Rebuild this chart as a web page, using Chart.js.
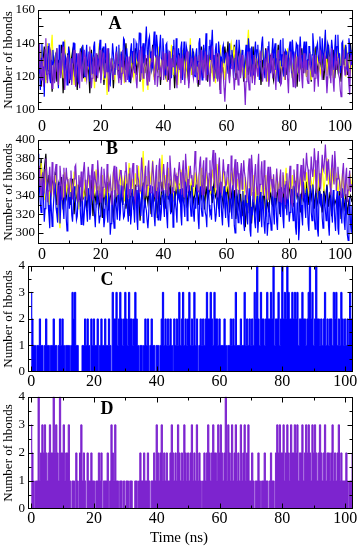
<!DOCTYPE html>
<html>
<head>
<meta charset="utf-8">
<script src="https://cdn.jsdelivr.net/npm/chart.js@4.4.0/dist/chart.umd.min.js"></script>
<style>
html, body { margin: 0; padding: 0; background: #fff; }
#wrap { position: relative; width: 361px; height: 550px; overflow: hidden; }
#wrap canvas { position: absolute; left: 0; }
#xtitle { position: absolute; top: 529px; left: 0; width: 358px; text-align: center;
          font: 15px "Liberation Serif", serif; color: #000; line-height: 17px; }
</style>
</head>
<body>
<div id="wrap">
  <canvas id="panelA" width="361" height="137" style="top:-1px"></canvas>
  <canvas id="panelB" width="361" height="133" style="top:129px"></canvas>
  <canvas id="panelC" width="361" height="137" style="top:255px"></canvas>
  <canvas id="panelD" width="361" height="142" style="top:386px"></canvas>
  <div id="xtitle">Time (ns)</div>
</div>
<script>
// sampling of the trajectories (ns between frames)
const timeStepCoarse = 0.5;   // black / yellow runs
const timeStepFine = 0.25;    // blue / purple runs
const timeStepCD = 0.4;

// tick labels
const xTicks = [0, 20, 40, 60, 80, 100];
const yTicksA = [100, 110, 120, 130, 140, 150, 160];
const yTicksB = [300, 320, 340, 360, 380, 400];
const yTicksCD = [0, 1, 2, 3, 4];

// panel A - number of hbonds, four systems
const hbA_black = [
  120,133,114,127,138,118,129,123,136,111, 126,132,117,130,121,139,110,128,124,134,
  116,129,135,120,127,112,133,125,138,119, 131,122,128,110,136,124,130,117,133,126,
  121,137,115,129,124,134,119,131,113,128, 135,123,127,118,132,126,140,120,129,116,
  130,125,137,121,133,117,128,136,122,131, 118,134,126,139,120,129,124,135,115,130,
  127,121,136,118,131,125,133,113,128,122, 134,119,129,137,123,126,116,132,121,135,
  125,131,114,128,138,120,127,133,117,129, 136,122,130,119,134,126,112,131,124,138,
  128,141,120,133,125,139,118,130,136,123, 131,117,127,135,121,129,124,138,119,132,
  126,134,115,130,122,137,128,120,133,124, 118,131,127,139,116,129,123,135,121,130,
  125,136,119,128,133,114,130,126,137,122, 132,120,128,135,117,129,124,138,121,131,
  127,134,118,130,125,139,122,128,136,119, 133,124,131,117,136,127,138,121,129,140,
  126
];
const hbA_yellow = [
  128,119,136,122,131,116,140,124,133,145, 121,130,137,114,127,134,119,142,125,129,
  138,122,126,115,133,128,120,135,124,130, 117,131,126,137,121,129,113,134,125,140,
  123,132,118,128,109,135,122,130,126,119, 133,124,137,120,129,116,131,127,122,136,
  125,119,132,128,134,121,127,111,130,124, 112,136,123,129,118,133,126,138,120,131,
  127,134,117,129,124,139,121,130,126,115, 132,122,136,128,119,133,125,143,121,129,
  124,131,118,135,127,122,137,120,130,126, 134,121,128,116,132,125,139,123,129,118,
  131,126,135,140,129,138,122,133,127,136, 124,130,119,136,148,126,132,121,128,134,
  120,133,127,138,123,129,117,131,126,135, 128,122,136,119,130,125,133,118,129,137,
  123,131,126,116,134,128,121,136,124,130, 135,120,128,133,118,129,137,124,131,126,
  122,138,127,145,121,132,126,135,119,130, 129,136,123,131,125,139,120,133,127,122,
  131
];
const hbA_blue = [
  122,135,128,112,131,140,118,126,108,133,134,121,125,138,140,119,116,130,127,136,
  129,117,121,134,137,125,113,139,133,122,124,136,141,127,119,132,130,115,126,138,
  135,124,118,131,128,140,140,121,122,134,131,117,116,129,137,128,125,139,133,120,
  120,132,139,126,127,135,117,130,134,122,124,138,141,127,121,133,130,125,136,142,
  118,129,132,138,126,119,140,133,123,128,137,116,115,124,129,140,134,127,121,131,
  138,124,127,139,119,130,135,126,129,143,142,131,124,137,131,122,117,126,136,140,
  128,135,143,124,125,140,138,129,133,146,146,134,122,137,140,128,131,141,150,136,
  129,142,144,131,135,124,126,139,147,133,132,145,139,127,124,138,145,131,130,143,
  136,125,121,139,140,127,128,135,134,123,119,131,138,142,127,121,143,132,125,137,
  131,126,137,141,118,129,141,134,129,138,135,124,122,130,139,128,126,137,133,121,
  120,133,137,126,129,140,143,131,124,118,135,139,128,134,146,132,121,127,138,142,
  130,139,148,133,126,119,136,140,119,127,141,135,132,122,125,137,139,128,128,134,
  134,127,122,133,140,124,127,136,131,119,125,131,137,142,129,124,142,135,124,130,
  136,129,120,127,133,139,128,123,143,137,126,120,138,133,121,127,135,141,130,136,
  139,126,118,129,132,140,144,131,125,119,136,133,129,138,141,127,122,130,134,143,
  127,136,140,124,131,126,117,130,138,142,126,133,143,120,129,136,135,128,120,132,
  137,141,128,122,142,135,125,130,133,140,139,127,122,136,144,133,131,125,136,141,
  126,135,141,124,130,138,138,127,124,133,146,139,133,122,127,138,140,132,129,144,
  135,127,143,134,125,139,148,131,132,140,138,126,121,133,142,137,130,124,137,145,
  128,138,145,131,134,122,126,140,141,129,131,136,139,125,124,134,143,138,133,127,
  136
];
const hbA_purple = [
  125,133,140,121,118,127,132,114,121,136,143,125,116,122,128,137,135,119,113,126,
  127,116,120,131,137,122,115,128,130,119,124,135,138,126,112,120,126,131,133,117,
  119,127,131,115,124,132,136,121,114,125,128,134,121,113,135,126,117,124,129,136,
  132,121,118,126,126,133,138,127,113,119,127,132,122,117,134,128,119,124,130,136,
  116,123,128,134,133,121,120,127,137,124,111,118,125,131,131,122,118,127,126,133,
  134,127,121,116,129,133,115,122,136,129,123,117,127,132,118,124,132,127,125,119,
  120,127,135,122,126,118,113,125,131,136,124,118,138,129,119,125,128,133,122,115,
  133,124,117,125,129,134,136,127,121,115,127,133,114,120,132,127,125,118,130,135,
  118,126,134,127,123,117,129,135,112,121,131,126,126,132,137,124,120,113,127,133,
  124,131,116,122,133,127,121,115,128,134,135,124,113,120,126,131,130,122,119,127,
  132,125,122,116,127,133,115,121,136,130,124,119,129,135,118,124,133,127,121,114,
  126,131,138,124,117,122,128,134,123,117,134,126,110,118,129,124,121,113,105,116,
  127,134,132,120,116,124,125,131,130,121,112,119,136,128,121,115,128,134,119,124,
  133,127,124,114,103,117,129,135,118,112,135,127,122,116,127,133,115,121,131,125,
  120,126,128,135,134,124,117,122,126,131,123,117,137,128,114,120,129,134,125,119,
  131,124,119,112,127,133,136,125,122,115,116,126,130,135,124,118,133,127,118,110,
  126,131,135,124,121,114,129,134,113,121,132,127,124,117,138,129,119,113,127,134,
  122,127,130,118,116,124,134,127,125,120,128,133,111,119,133,126,120,114,129,136,
  135,126,118,124,126,133,131,120,110,118,127,132,123,116,137,129,117,111,128,134,
  124,129,132,121,119,112,108,117,130,136,126,121,121,129,134,125,115,109,127,133,
  129
];

// panel B
const hbB_black = [
  372,355,380,340,368,385,348,362,335,357, 345,366,330,352,340,360,325,348,338,355,
  342,330,358,320,346,335,352,328,344,338, 350,326,342,335,357,318,345,332,350,329,
  340,316,347,330,355,324,338,345,312,342, 334,350,322,343,330,356,326,341,318,347,
  338,325,352,331,346,313,340,354,327,345, 332,348,320,342,336,352,316,344,330,355,
  341,326,350,336,358,322,345,331,349,338, 353,329,344,336,360,327,348,340,355,333,
  342,357,330,346,338,362,325,350,335,344, 348,332,356,339,345,326,353,341,330,347,
  336,350,322,344,331,346,315,338,327,342, 318,340,306,333,325,345,310,336,320,330,
  338,312,343,326,348,317,335,322,346,331, 328,347,334,352,320,340,331,355,326,344,
  350,334,345,328,356,338,342,322,348,335, 340,355,330,348,337,352,326,346,333,350,
  338,322,346,334,352,328,344,318,340,331, 336,322,345,315,338,327,342,320,335,340,
  333
];
const hbB_yellow = [
  360,342,375,350,335,368,345,330,358,352, 340,362,347,320,305,352,338,365,345,355,
  330,358,343,366,338,352,325,360,347,340, 357,335,362,348,330,355,344,368,338,350,
  345,362,338,354,328,360,350,342,365,336, 352,340,368,346,357,334,362,348,375,343,
  358,336,364,350,372,342,355,388,347,361, 340,366,352,378,345,359,337,368,350,384,
  346,362,340,370,352,358,335,365,348,360, 342,368,355,338,364,350,372,345,358,340,
  365,348,360,338,370,352,344,366,350,358, 342,368,355,346,374,350,362,340,366,352,
  345,360,338,365,350,370,343,358,336,362, 348,335,360,345,322,355,340,362,330,350,
  325,348,333,356,340,362,338,350,345,358, 352,340,365,346,358,336,362,348,370,338,
  355,345,362,332,350,366,340,358,347,360, 343,365,350,338,356,346,368,352,340,362,
  350,372,345,360,380,352,365,348,370,355, 362,340,358,345,366,338,355,350,343,360,
  348
];
const hbB_blue = [
  385,362,345,331,322,340,360,336,312,326,338,349,352,330,318,305,343,325,307,320,
  335,346,350,327,320,311,342,355,310,329,346,337,327,315,355,340,315,302,337,348,
  326,338,344,319,312,331,350,343,330,314,318,336,341,350,322,309,354,328,308,321,
  339,330,323,312,348,340,314,322,335,347,352,333,319,306,331,344,345,325,310,318,
  328,340,349,326,306,315,337,345,320,311,343,336,298,310,332,341,317,305,346,335,
  325,314,340,352,313,322,351,340,329,316,318,331,344,353,323,312,336,347,309,320,
  347,339,326,311,338,346,315,303,352,341,330,318,342,350,311,320,336,329,324,313,
  305,320,343,351,329,317,350,338,318,307,337,345,322,314,355,336,313,322,340,348,
  328,317,346,337,317,305,353,342,331,320,340,349,306,316,345,333,324,311,350,339,
  335,347,319,308,348,336,328,317,355,343,313,325,342,351,330,318,351,337,321,312,
  338,326,352,341,315,304,344,350,326,318,349,338,333,322,318,306,347,355,330,320,
  323,314,350,341,336,325,312,320,345,352,329,317,354,340,319,308,340,350,327,316,
  344,333,315,306,337,348,326,315,351,339,308,300,339,347,322,311,346,336,318,309,
  333,345,310,302,341,332,320,309,335,348,303,296,328,319,344,336,312,305,330,340,
  300,315,336,344,318,306,340,329,309,299,326,338,297,310,333,322,315,303,338,346,
  321,309,344,335,312,303,335,347,326,317,349,338,316,305,340,352,330,319,345,334,
  312,322,338,347,325,313,350,340,306,298,332,343,292,306,342,330,318,308,355,341,
  327,316,348,337,310,302,340,351,322,313,352,341,315,304,336,347,303,296,345,333,
  330,342,316,305,343,335,325,313,350,339,308,297,337,348,321,311,346,335,313,302,
  334,345,305,298,340,332,320,310,348,337,312,303,336,326,298,292,325,338,310,300,
  330
];
const hbB_purple = [
  350,362,372,351,338,356,365,349,345,368,380,357,333,345,360,371,352,340,376,362,
  341,355,368,374,356,342,330,351,372,360,347,335,362,370,338,351,370,358,355,343,
  345,358,367,349,336,350,358,371,373,355,342,334,362,351,350,366,334,346,368,376,
  357,345,340,355,371,362,348,337,363,374,335,349,366,358,352,340,378,365,344,333,
  360,371,337,349,369,358,351,340,374,363,343,352,358,345,330,344,365,372,349,338,
  371,357,342,355,359,367,367,350,338,349,355,366,376,360,346,337,363,370,340,352,
  368,375,352,339,334,350,373,361,357,344,345,363,381,366,350,340,362,372,339,351,
  369,378,355,344,343,360,377,364,349,338,364,373,336,348,371,380,358,345,346,362,
  374,360,351,342,365,376,340,352,383,369,356,343,344,361,370,357,361,349,348,367,
  376,365,353,341,366,378,339,352,385,370,358,345,347,364,372,359,362,350,350,368,
  388,373,359,346,344,360,375,382,352,341,369,378,341,355,381,367,357,346,364,378,
  345,360,378,389,360,348,386,370,349,338,371,381,355,344,342,362,379,366,361,350,
  352,366,374,358,346,337,383,371,357,345,368,379,340,353,376,364,353,342,365,375,
  347,362,378,365,359,345,336,350,370,380,351,340,384,369,344,333,363,374,355,341,
  372,385,341,352,366,377,353,340,378,362,346,336,360,371,335,348,371,358,350,339,
  363,349,338,351,369,356,346,334,358,368,332,343,365,352,341,330,355,364,336,347,
  361,372,345,333,330,350,368,356,352,340,374,362,339,350,362,373,348,337,380,366,
  356,370,386,373,368,352,345,360,382,368,360,372,391,378,352,343,377,388,364,350,
  348,367,384,370,367,380,395,377,356,368,379,362,350,341,372,384,361,352,388,374,
  345,358,371,360,356,344,338,352,366,375,349,339,361,370,333,346,358,367,344,351,
  352
];

// panel C (blue) and panel D (purple), integer counts
const hbC = [
  3,2,1,1,0,1,1,2,1,1, 0,1,2,1,1,0,1,1,2,1, 1,0,1,2,1,2,1,0,1,1, 1,0,1,3,2,3,1,1,0,0,
  0,1,1,2,1,2,1,0,2,1, 2,1,1,2,0,1,2,1,1,2, 1,1,2,1,0,3,2,2,3,1, 2,3,2,1,2,3,2,1,3,2,
  2,1,2,3,2,1,0,1,1,0, 1,2,1,2,0,1,2,1,1,0, 1,1,0,1,2,3,1,2,1,2, 1,2,1,0,2,1,2,1,3,1,
  2,3,1,2,1,2,3,1,2,1, 3,1,2,0,1,2,1,2,1,2, 3,2,2,3,2,1,3,2,2,1, 2,1,1,1,2,1,0,1,1,2,
  1,2,1,3,1,1,1,2,1,1, 3,1,2,1,2,1,2,1,3,2, 4,2,1,3,2,2,1,2,3,2, 2,3,2,4,1,2,2,3,1,2,
  4,2,3,2,4,3,2,2,3,2, 3,2,3,1,2,2,3,2,2,1, 2,3,4,2,3,1,2,4,2,2, 1,2,1,2,3,1,2,1,2,2,
  1,3,2,3,1,2,1,3,2,1, 2,1,2,1,3,2,1,3,2,1
];
const hbD = [
  3,2,1,0,1,1,4,1,2,3, 2,3,2,1,2,3,2,2,4,2, 3,2,1,4,2,2,3,1,2,2, 3,1,0,1,1,0,2,1,0,2,
  3,1,2,1,0,2,1,1,2,1, 1,0,1,1,2,1,2,0,1,1, 1,2,0,1,3,2,1,3,1,1, 0,1,1,0,1,0,1,1,0,1,
  1,0,0,1,1,0,1,2,1,1, 2,1,1,2,1,0,1,1,2,1, 3,2,1,2,3,1,2,1,2,1, 1,2,3,2,1,2,1,3,2,1,
  2,1,3,2,1,2,1,2,3,1, 2,1,3,1,2,1,0,1,2,1, 2,3,2,1,2,3,2,2,1,3, 2,3,2,1,2,4,1,3,2,1,
  3,1,2,3,1,2,1,3,1,2, 3,1,2,3,1,1,2,1,0,1, 1,2,1,0,1,1,2,1,1,0, 1,2,1,1,0,2,3,2,3,2,
  2,3,1,2,3,2,1,3,2,2, 3,2,3,1,2,2,3,1,2,3, 2,3,2,1,3,2,3,2,1,2, 3,2,1,2,3,1,2,2,1,2,
  3,1,2,1,2,3,1,2,1,1, 1,2,1,0,1,1,2,1,1,0
];

const BLACK = '#000000';
const YELLOW = '#ffff00';
const BLUE = '#0000ff';
const PURPLE = '#7d24cf';
const SERIF = '"Liberation Serif", "Times New Roman", serif';

function toPoints(vals, step) {
    return vals.map(function (v, i) { return { x: i * step, y: v }; });
}

// frame with inward major/minor ticks on all four sides, plus the panel letter
const panelFrame = {
    id: 'panelFrame',
    afterDraw: function (chart, args, opts) {
        const ctx = chart.ctx;
        const a = chart.chartArea;
        const xs = chart.scales.x;
        const ys = chart.scales.y;
        const L = Math.round(a.left) + 0.5, R = Math.round(a.right) - 0.5;
        const T = Math.round(a.top) + 0.5, B = Math.round(a.bottom) - 0.5;
        ctx.save();
        ctx.strokeStyle = '#000';
        ctx.lineWidth = 1;
        ctx.beginPath();
        for (let v = opts.xFirst; v <= xs.max; v += opts.xMinor) {
            const p = Math.round(xs.getPixelForValue(v)) + 0.5;
            if (p < L || p > R) continue;
            const len = (Math.abs(v % opts.xMajor) < 1e-6) ? 5 : 3;
            ctx.moveTo(p, B); ctx.lineTo(p, B - len);
            ctx.moveTo(p, T); ctx.lineTo(p, T + len);
        }
        for (let v = opts.yFirst; v <= ys.max + 1e-6; v += opts.yMinor) {
            const p = Math.round(ys.getPixelForValue(v)) + 0.5;
            if (p < T || p > B) continue;
            const len = (Math.abs((v - opts.yFirst) % opts.yMajor) < 1e-6) ? 5 : 3;
            ctx.moveTo(L, p); ctx.lineTo(L + len, p);
            ctx.moveTo(R, p); ctx.lineTo(R - len, p);
        }
        ctx.stroke();
        ctx.strokeRect(L, T, R - L, B - T);
        ctx.fillStyle = '#000';
        ctx.font = 'bold 18px ' + SERIF;
        ctx.textAlign = 'center';
        ctx.textBaseline = 'middle';
        ctx.fillText(opts.letter, a.left + opts.lx, a.top + opts.ly);
        ctx.restore();
    }
};

function makePanel(id, cfg) {
    const ctx = document.getElementById(id).getContext('2d');
    return new Chart(ctx, {
        type: 'line',
        data: { datasets: cfg.datasets },
        options: {
            responsive: false,
            animation: false,
            devicePixelRatio: 1,
            parsing: false,
            layout: { padding: { top: 8, right: 8, left: 0, bottom: 0 } },
            elements: {
                point: { radius: 0 },
                line: { borderWidth: 1, tension: 0 }
            },
            plugins: {
                legend: { display: false },
                tooltip: { enabled: false },
                panelFrame: cfg.frame
            },
            scales: {
                x: {
                    type: 'linear',
                    min: cfg.xMin,
                    max: cfg.xMax,
                    grid: { display: false, drawTicks: false },
                    border: { display: false },
                    ticks: {
                        color: '#000',
                        font: { family: SERIF, size: 16 },
                        padding: cfg.xPad,
                        align: cfg.xAlign,
                        maxRotation: 0,
                        autoSkip: false
                    },
                    afterBuildTicks: function (axis) {
                        axis.ticks = xTicks.map(function (v) { return { value: v }; });
                    },
                    afterFit: function (scale) { scale.height = cfg.xHeight; }
                },
                y: {
                    min: cfg.yMin,
                    max: cfg.yMax,
                    grid: { display: false, drawTicks: false },
                    border: { display: false },
                    ticks: {
                        color: '#000',
                        font: { family: SERIF, size: 13 },
                        padding: 3
                    },
                    afterBuildTicks: function (axis) {
                        axis.ticks = cfg.yTicks.map(function (v) { return { value: v }; });
                    },
                    afterFit: function (scale) { scale.width = cfg.left; },
                    title: {
                        display: true,
                        text: 'Number of hbonds',
                        color: '#000',
                        font: { family: SERIF, size: 13 },
                        padding: { top: 1, bottom: 0 }
                    }
                }
            }
        },
        plugins: [panelFrame]
    });
}

function lineSet(vals, step, colour, order) {
    return { data: toPoints(vals, step), borderColor: colour, borderWidth: 1.2, order: order };
}

function stepSet(vals, step, colour) {
    return {
        data: toPoints(vals, step),
        borderColor: colour,
        backgroundColor: colour,
        borderWidth: 1,
        stepped: 'middle',
        fill: 'origin'
    };
}

makePanel('panelA', {
    datasets: [
        lineSet(hbA_black, timeStepCoarse, BLACK, 3),
        lineSet(hbA_yellow, timeStepCoarse, YELLOW, 2),
        lineSet(hbA_blue, timeStepFine, BLUE, 1),
        lineSet(hbA_purple, timeStepFine, PURPLE, 0)
    ],
    xMin: 0, xMax: 100.3, xPad: 7, xAlign: 'inner', xHeight: 26,
    yMin: 100, yMax: 160, yTicks: yTicksA, left: 38,
    frame: { letter: 'A', lx: 77, ly: 15, xFirst: 0, xMinor: 10, xMajor: 20, yFirst: 100, yMinor: 5, yMajor: 10 }
});

makePanel('panelB', {
    datasets: [
        lineSet(hbB_black, timeStepCoarse, BLACK, 3),
        lineSet(hbB_yellow, timeStepCoarse, YELLOW, 2),
        lineSet(hbB_blue, timeStepFine, BLUE, 1),
        lineSet(hbB_purple, timeStepFine, PURPLE, 0)
    ],
    xMin: 0, xMax: 100.3, xPad: 1.5, xAlign: 'inner', xHeight: 18,
    yMin: 288, yMax: 400, yTicks: yTicksB, left: 38,
    frame: { letter: 'B', lx: 74, ly: 10, xFirst: 0, xMinor: 10, xMajor: 20, yFirst: 300, yMinor: 10, yMajor: 20 }
});

makePanel('panelC', {
    datasets: [stepSet(hbC, timeStepCD, BLUE)],
    xMin: -1, xMax: 102.5, xPad: 0.5, xAlign: 'center', xHeight: 20,
    yMin: 0, yMax: 4, yTicks: yTicksCD, left: 28,
    frame: { letter: 'C', lx: 79, ly: 15, xFirst: 0, xMinor: 10, xMajor: 20, yFirst: 0, yMinor: 0.5, yMajor: 1 }
});

makePanel('panelD', {
    datasets: [stepSet(hbD, timeStepCD, PURPLE)],
    xMin: -1, xMax: 102.5, xPad: 0.5, xAlign: 'center', xHeight: 19,
    yMin: 0, yMax: 4, yTicks: yTicksCD, left: 28,
    frame: { letter: 'D', lx: 79, ly: 13, xFirst: 0, xMinor: 10, xMajor: 20, yFirst: 0, yMinor: 0.5, yMajor: 1 }
});
</script>
</body>
</html>
